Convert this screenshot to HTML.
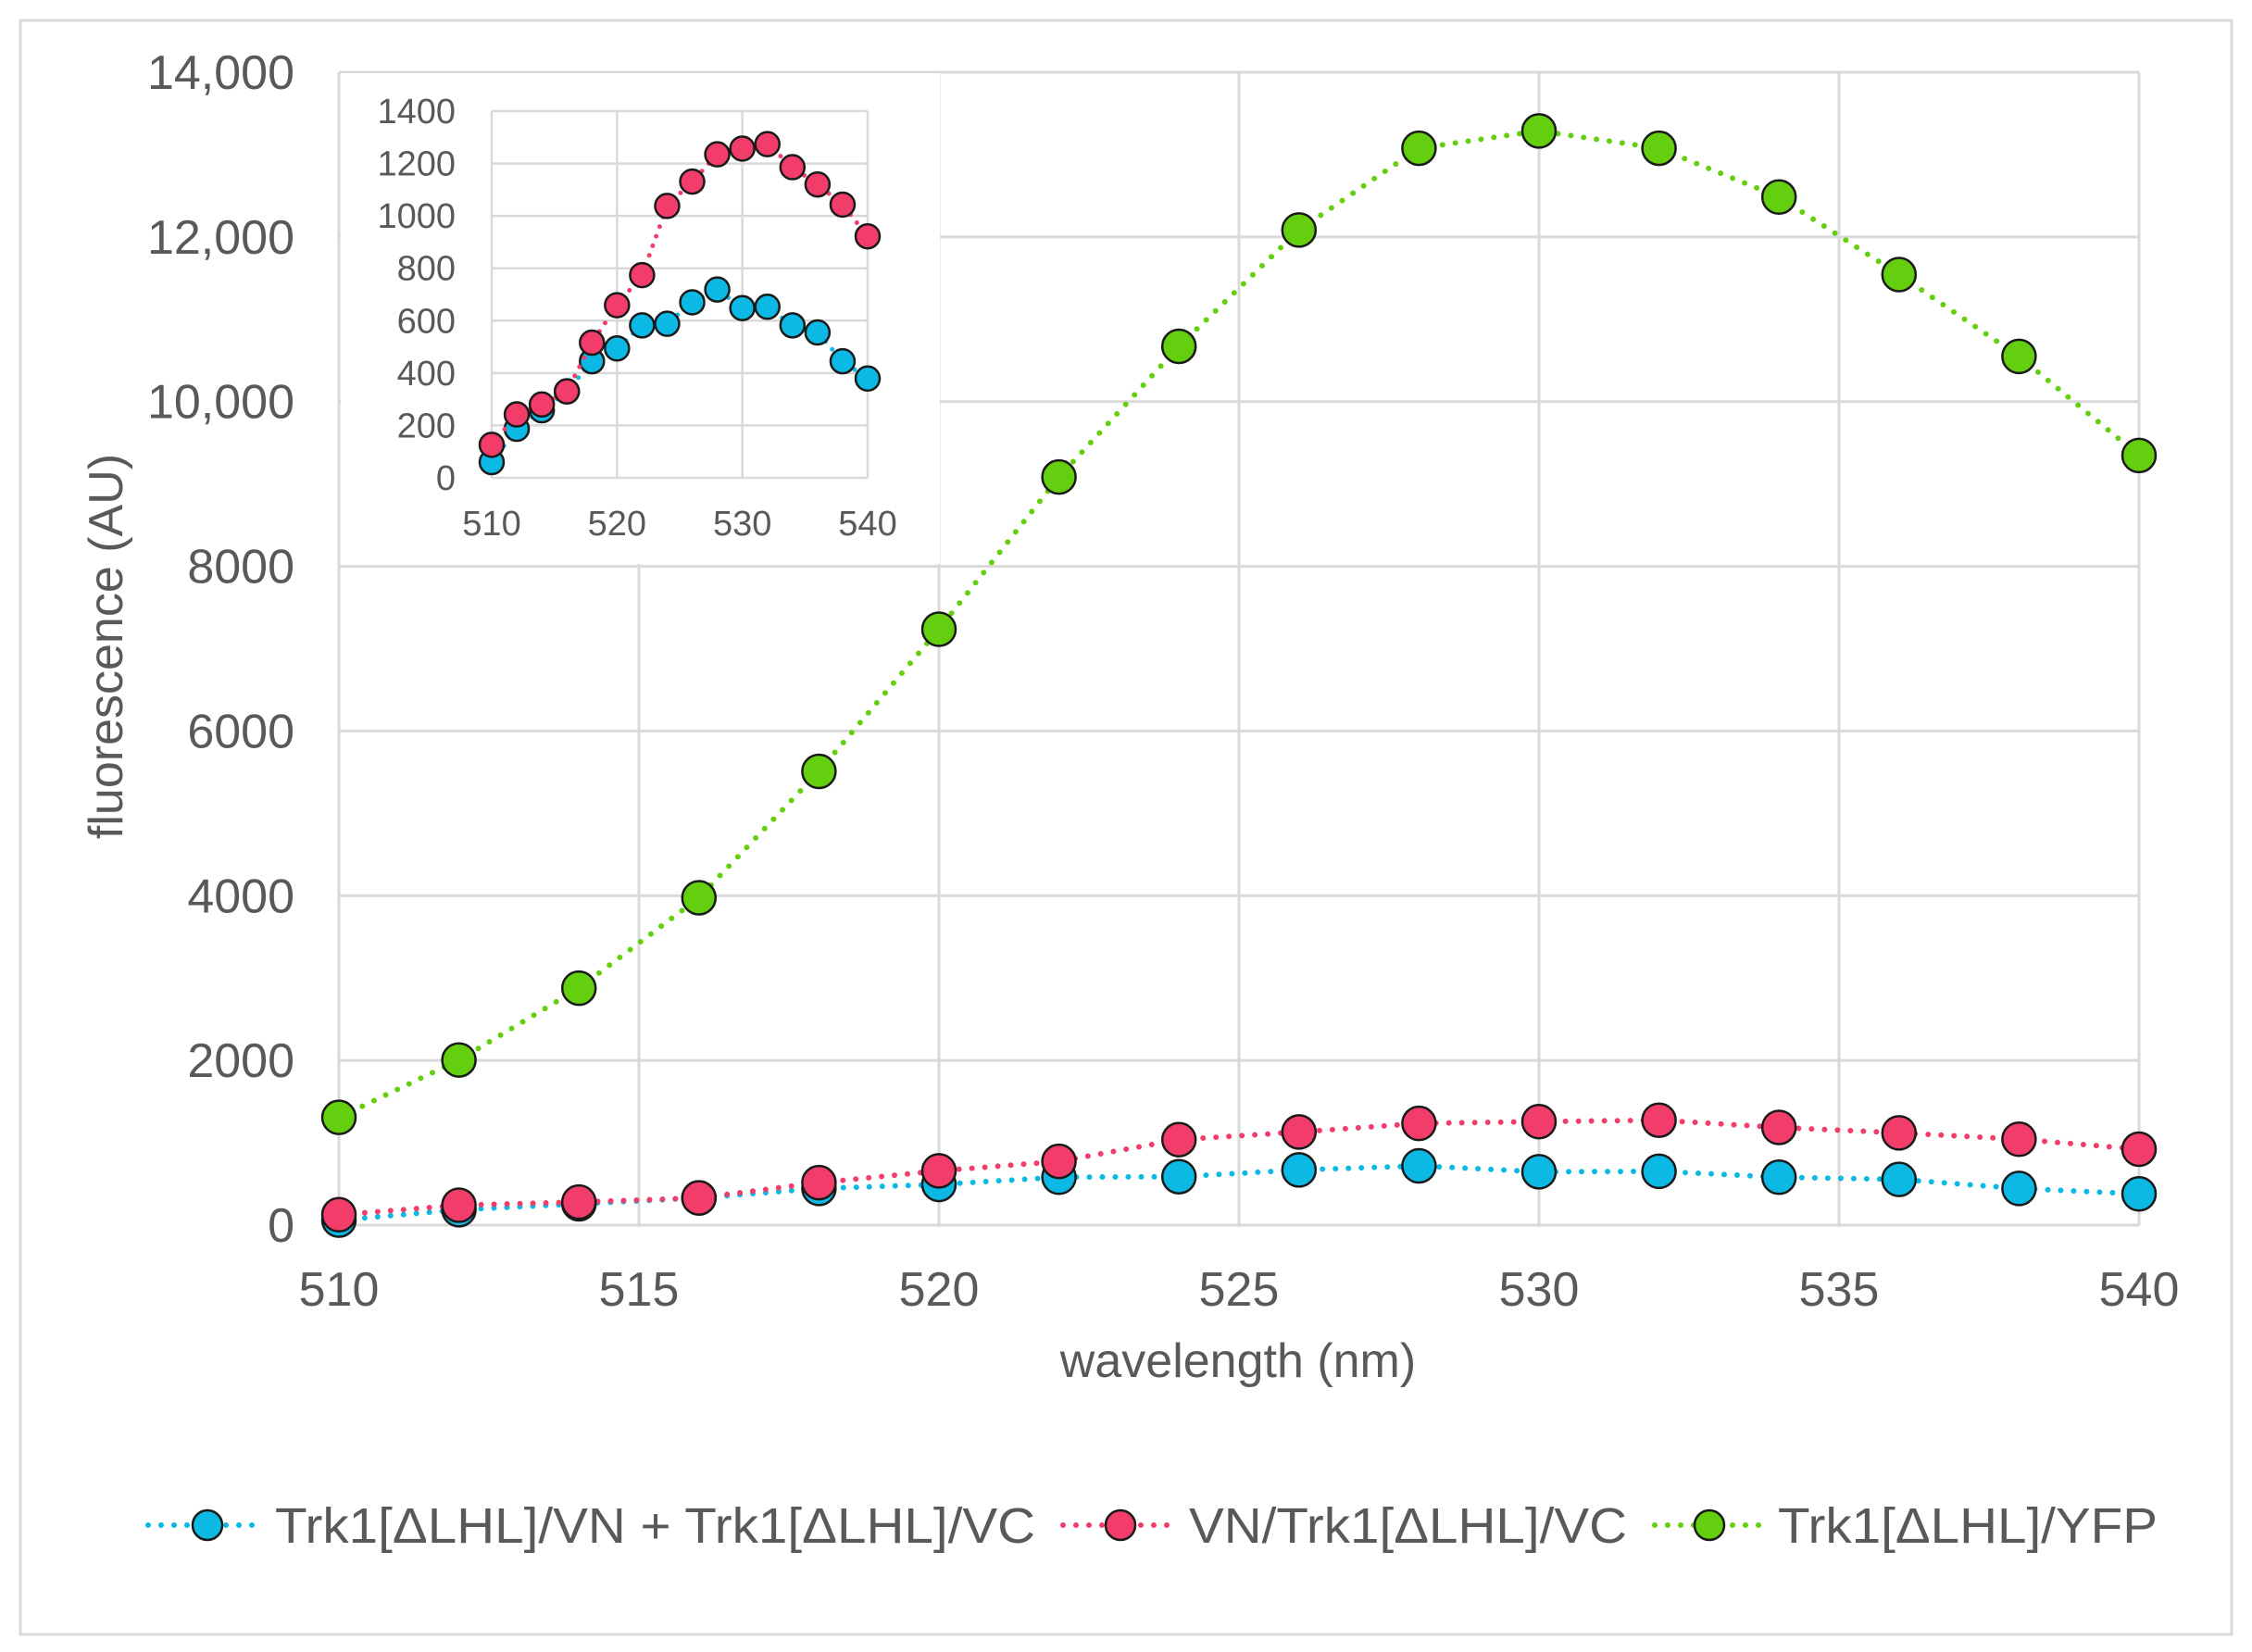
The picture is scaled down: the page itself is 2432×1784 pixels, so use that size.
<!DOCTYPE html>
<html><head><meta charset="utf-8"><style>
html,body{margin:0;padding:0;background:#fff;}
svg{display:block;font-family:"Liberation Sans",Arial,sans-serif;}
</style></head><body>
<svg id="chart" width="2432" height="1784" viewBox="0 0 2432 1784" xmlns="http://www.w3.org/2000/svg">
<rect x="22" y="22" width="2388" height="1743" fill="#fff" stroke="#d9d9d9" stroke-width="3"/>
<g id="main"></g>
<g id="inset"></g>
<g id="legend"></g>
</svg>
<script>
const wavelengths=[510,512,514,516,518,520,522,524,526,528,530,532,534,536,538,540];
const blueVals=[60,187,258,330,445,494,582,588,670,719,648,653,582,555,445,379];
const pinkVals=[126,242,280,330,516,659,774,1038,1131,1235,1257,1274,1186,1120,1043,922];
const greenVals=[1308,2005,2877,3975,5510,7236,9084,10671,12084,13077,13287,13077,12485,11543,10549,9346];
const mainYTicks=[0,2000,4000,6000,8000,10000,12000,14000];
const mainYLabels=["0","2000","4000","6000","8000","10,000","12,000","14,000"];
const mainXTicks=[510,515,520,525,530,535,540];
const insetYTicks=[0,200,400,600,800,1000,1200,1400];
const insetXTicks=[510,520,530,540];
const seriesNames=["Trk1[\u0394LHL]/VN + Trk1[\u0394LHL]/VC","VN/Trk1[\u0394LHL]/VC","Trk1[\u0394LHL]/YFP"];
const colors={blue:"#0cb8e4",pink:"#f23d6b",green:"#63cf0e"};
const NS="http://www.w3.org/2000/svg";
function mk(tag,attrs,parent,text){const e=document.createElementNS(NS,tag);for(const k in attrs)e.setAttribute(k,attrs[k]);if(text!==undefined)e.textContent=text;parent.appendChild(e);return e;}
// main axes
const mx=v=>366+(v-510)/30*(2310-366);
const my=v=>1323-v/14000*(1323-78);
const main=document.getElementById('main');
mainYTicks.forEach((t,i)=>{
  const l=mk('line',{x1:366,x2:2310,y1:my(t),y2:my(t),stroke:"#d9d9d9","stroke-width":3},main);
  
  
  const tx=mk('text',{x:318,y:my(t)+18,"text-anchor":"end","font-size":52,fill:"#595959"},main,mainYLabels[i]);
  
  
});
mainXTicks.forEach(t=>{
  const l=mk('line',{x1:mx(t),x2:mx(t),y1:78,y2:1323,stroke:"#d9d9d9","stroke-width":3},main);
  
  
  const tx=mk('text',{x:mx(t),y:1410,"text-anchor":"middle","font-size":52,fill:"#595959"},main,String(t));
  
  
});
const xt=mk('text',{x:1337,y:1487,"text-anchor":"middle","font-size":52,fill:"#595959"},main,"wavelength (nm)");


const yt=mk('text',{x:0,y:0,transform:"translate(132,698) rotate(-90)","text-anchor":"middle","font-size":52,fill:"#595959"},main,"fluorescence (AU)");


function drawSeries(parent,vals,color,fx,fy,r,sw,dash,name){
  const pts=wavelengths.map((w,i)=>fx(w)+","+fy(vals[i])).join(" ");
  const pl=mk('polyline',{points:pts,fill:"none",stroke:color,"stroke-width":sw,"stroke-dasharray":dash,"stroke-linecap":"round"},parent);
  
  
  wavelengths.forEach((w,i)=>{
    const c=mk('circle',{cx:fx(w),cy:fy(vals[i]),r:r,fill:color,stroke:"#1a1a1a","stroke-width":2.5},parent);
    
    
  });
}
drawSeries(main,blueVals,colors.blue,mx,my,18,6,"0 14","blue-series");
drawSeries(main,pinkVals,colors.pink,mx,my,18,6,"0 14","pink-series");
drawSeries(main,greenVals,colors.green,mx,my,18,6,"0 14","green-series");
// inset
const inset=document.getElementById('inset');
const ib=mk('rect',{x:368,y:79,width:647,height:530,fill:"#fff"},inset);


const ix=v=>531+(v-510)/30*(937-531);
const iy=v=>516-v/1400*(516-120);
insetYTicks.forEach(t=>{
  const l=mk('line',{x1:531,x2:937,y1:iy(t),y2:iy(t),stroke:"#d9d9d9","stroke-width":2.5},inset);
  
  
  const tx=mk('text',{x:492,y:iy(t)+13,"text-anchor":"end","font-size":38,fill:"#595959"},inset,String(t));
  
  
});
insetXTicks.forEach(t=>{
  const l=mk('line',{x1:ix(t),x2:ix(t),y1:120,y2:516,stroke:"#d9d9d9","stroke-width":2.5},inset);
  
  
  const tx=mk('text',{x:ix(t),y:578,"text-anchor":"middle","font-size":38,fill:"#595959"},inset,String(t));
  
  
});
drawSeries(inset,blueVals,colors.blue,ix,iy,13,5,"0 11","inset-blue-series");
drawSeries(inset,pinkVals,colors.pink,ix,iy,13,5,"0 11","inset-pink-series");
// legend
const legend=document.getElementById('legend');
const legItems=[
 {x0:160,x1:274,mx:224,tx:297,tl:821,c:colors.blue},
 {x0:1148,x1:1262,mx:1210,tx:1284,tl:473,c:colors.pink},
 {x0:1787,x1:1900,mx:1846,tx:1920,tl:410,c:colors.green}];
legItems.forEach((it,i)=>{
  const g=mk('g',{},legend);
  
  
  mk('line',{x1:it.x0,x2:it.x1,y1:1647,y2:1647,stroke:it.c,"stroke-width":6,"stroke-dasharray":"0 14","stroke-linecap":"round"},g);
  mk('circle',{cx:it.mx,cy:1647,r:16,fill:it.c,stroke:"#1a1a1a","stroke-width":2.5},g);
  const t=mk('text',{x:it.tx,y:1666,"font-size":54,fill:"#595959",textLength:it.tl,lengthAdjust:"spacingAndGlyphs"},g,seriesNames[i]);
  
  
});
</script>
</body></html>
